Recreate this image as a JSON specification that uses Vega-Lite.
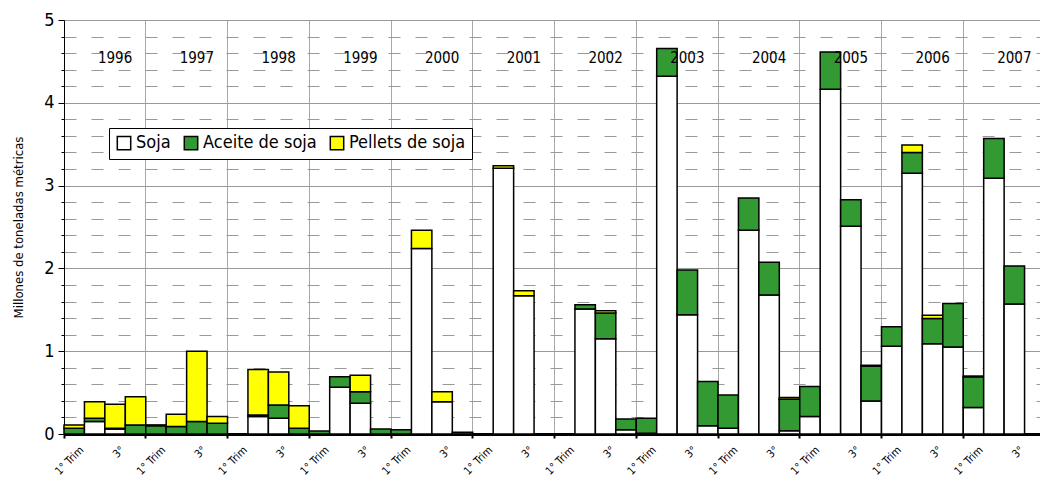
{
  "$schema": "https://vega.github.io/schema/vega-lite/v6.json",
  "width": 976,
  "height": 414,
  "autosize": {"type": "none"},
  "padding": {"left": 64, "top": 20, "right": 0, "bottom": 44},
  "background": "white",
  "config": {
    "font": "Liberation Sans Narrow, DejaVu Sans Condensed, sans-serif",
    "view": {"stroke": null},
    "axis": {"labelColor": "black", "titleColor": "black", "labelFont": "Liberation Sans Narrow, DejaVu Sans Condensed, sans-serif", "titleFont": "Liberation Sans Narrow, DejaVu Sans Condensed, sans-serif"},
    "legend": {"labelFont": "Liberation Sans Narrow, DejaVu Sans Condensed, sans-serif"}
  },
  "datasets": {
    "trade": [
      {"t": "1996-1", "p": "Aceite de soja", "v": 0.07}, {"t": "1996-1", "p": "Pellets de soja", "v": 0.04},
      {"t": "1996-2", "p": "Soja", "v": 0.15}, {"t": "1996-2", "p": "Aceite de soja", "v": 0.04}, {"t": "1996-2", "p": "Pellets de soja", "v": 0.20},
      {"t": "1996-3", "p": "Soja", "v": 0.06}, {"t": "1996-3", "p": "Aceite de soja", "v": 0.01}, {"t": "1996-3", "p": "Pellets de soja", "v": 0.29},
      {"t": "1996-4", "p": "Aceite de soja", "v": 0.11}, {"t": "1996-4", "p": "Pellets de soja", "v": 0.34},
      {"t": "1997-1", "p": "Aceite de soja", "v": 0.10}, {"t": "1997-1", "p": "Pellets de soja", "v": 0.01},
      {"t": "1997-2", "p": "Aceite de soja", "v": 0.09}, {"t": "1997-2", "p": "Pellets de soja", "v": 0.15},
      {"t": "1997-3", "p": "Aceite de soja", "v": 0.15}, {"t": "1997-3", "p": "Pellets de soja", "v": 0.85},
      {"t": "1997-4", "p": "Aceite de soja", "v": 0.13}, {"t": "1997-4", "p": "Pellets de soja", "v": 0.08},
      {"t": "1998-2", "p": "Soja", "v": 0.21}, {"t": "1998-2", "p": "Aceite de soja", "v": 0.02}, {"t": "1998-2", "p": "Pellets de soja", "v": 0.55},
      {"t": "1998-3", "p": "Soja", "v": 0.19}, {"t": "1998-3", "p": "Aceite de soja", "v": 0.16}, {"t": "1998-3", "p": "Pellets de soja", "v": 0.40},
      {"t": "1998-4", "p": "Aceite de soja", "v": 0.07}, {"t": "1998-4", "p": "Pellets de soja", "v": 0.27},
      {"t": "1999-1", "p": "Aceite de soja", "v": 0.035},
      {"t": "1999-2", "p": "Soja", "v": 0.565}, {"t": "1999-2", "p": "Aceite de soja", "v": 0.125},
      {"t": "1999-3", "p": "Soja", "v": 0.37}, {"t": "1999-3", "p": "Aceite de soja", "v": 0.14}, {"t": "1999-3", "p": "Pellets de soja", "v": 0.20},
      {"t": "1999-4", "p": "Aceite de soja", "v": 0.06},
      {"t": "2000-1", "p": "Aceite de soja", "v": 0.05},
      {"t": "2000-2", "p": "Soja", "v": 2.24}, {"t": "2000-2", "p": "Pellets de soja", "v": 0.22},
      {"t": "2000-3", "p": "Soja", "v": 0.39}, {"t": "2000-3", "p": "Pellets de soja", "v": 0.12},
      {"t": "2000-4", "p": "Aceite de soja", "v": 0.02},
      {"t": "2001-2", "p": "Soja", "v": 3.21}, {"t": "2001-2", "p": "Pellets de soja", "v": 0.03},
      {"t": "2001-3", "p": "Soja", "v": 1.67}, {"t": "2001-3", "p": "Pellets de soja", "v": 0.06},
      {"t": "2002-2", "p": "Soja", "v": 1.51}, {"t": "2002-2", "p": "Aceite de soja", "v": 0.05},
      {"t": "2002-3", "p": "Soja", "v": 1.15}, {"t": "2002-3", "p": "Aceite de soja", "v": 0.31}, {"t": "2002-3", "p": "Pellets de soja", "v": 0.03},
      {"t": "2002-4", "p": "Soja", "v": 0.05}, {"t": "2002-4", "p": "Aceite de soja", "v": 0.13},
      {"t": "2003-1", "p": "Soja", "v": 0.01}, {"t": "2003-1", "p": "Aceite de soja", "v": 0.18},
      {"t": "2003-2", "p": "Soja", "v": 4.32}, {"t": "2003-2", "p": "Aceite de soja", "v": 0.335},
      {"t": "2003-3", "p": "Soja", "v": 1.44}, {"t": "2003-3", "p": "Aceite de soja", "v": 0.54},
      {"t": "2003-4", "p": "Soja", "v": 0.10}, {"t": "2003-4", "p": "Aceite de soja", "v": 0.535},
      {"t": "2004-1", "p": "Soja", "v": 0.07}, {"t": "2004-1", "p": "Aceite de soja", "v": 0.40},
      {"t": "2004-2", "p": "Soja", "v": 2.46}, {"t": "2004-2", "p": "Aceite de soja", "v": 0.39},
      {"t": "2004-3", "p": "Soja", "v": 1.68}, {"t": "2004-3", "p": "Aceite de soja", "v": 0.395},
      {"t": "2004-4", "p": "Soja", "v": 0.04}, {"t": "2004-4", "p": "Aceite de soja", "v": 0.38}, {"t": "2004-4", "p": "Pellets de soja", "v": 0.02},
      {"t": "2005-1", "p": "Soja", "v": 0.21}, {"t": "2005-1", "p": "Aceite de soja", "v": 0.365},
      {"t": "2005-2", "p": "Soja", "v": 4.165}, {"t": "2005-2", "p": "Aceite de soja", "v": 0.45},
      {"t": "2005-3", "p": "Soja", "v": 2.51}, {"t": "2005-3", "p": "Aceite de soja", "v": 0.32},
      {"t": "2005-4", "p": "Soja", "v": 0.40}, {"t": "2005-4", "p": "Aceite de soja", "v": 0.42}, {"t": "2005-4", "p": "Pellets de soja", "v": 0.01},
      {"t": "2006-1", "p": "Soja", "v": 1.06}, {"t": "2006-1", "p": "Aceite de soja", "v": 0.235},
      {"t": "2006-2", "p": "Soja", "v": 3.15}, {"t": "2006-2", "p": "Aceite de soja", "v": 0.25}, {"t": "2006-2", "p": "Pellets de soja", "v": 0.09},
      {"t": "2006-3", "p": "Soja", "v": 1.09}, {"t": "2006-3", "p": "Aceite de soja", "v": 0.305}, {"t": "2006-3", "p": "Pellets de soja", "v": 0.04},
      {"t": "2006-4", "p": "Soja", "v": 1.05}, {"t": "2006-4", "p": "Aceite de soja", "v": 0.525},
      {"t": "2007-1", "p": "Soja", "v": 0.32}, {"t": "2007-1", "p": "Aceite de soja", "v": 0.37}, {"t": "2007-1", "p": "Pellets de soja", "v": 0.01},
      {"t": "2007-2", "p": "Soja", "v": 3.09}, {"t": "2007-2", "p": "Aceite de soja", "v": 0.48},
      {"t": "2007-3", "p": "Soja", "v": 1.57}, {"t": "2007-3", "p": "Aceite de soja", "v": 0.46}
    ],
    "years": [
      {"t": "1996-3", "year": "1996"}, {"t": "1997-3", "year": "1997"}, {"t": "1998-3", "year": "1998"},
      {"t": "1999-3", "year": "1999"}, {"t": "2000-3", "year": "2000"}, {"t": "2001-3", "year": "2001"},
      {"t": "2002-3", "year": "2002"}, {"t": "2003-3", "year": "2003"}, {"t": "2004-3", "year": "2004"},
      {"t": "2005-3", "year": "2005"}, {"t": "2006-3", "year": "2006"}, {"t": "2007-3", "year": "2007"}
    ]
  },
  "layer": [
    {
      "data": {"name": "trade"},
      "transform": [{"calculate": "indexof(['Soja','Aceite de soja','Pellets de soja'], datum.p)", "as": "ord"}],
      "mark": {"type": "bar", "stroke": "black", "strokeWidth": 1.5},
      "encoding": {
        "x": {
          "field": "t", "type": "ordinal",
          "scale": {
            "domain": ["1996-1","1996-2","1996-3","1996-4","1997-1","1997-2","1997-3","1997-4","1998-1","1998-2","1998-3","1998-4","1999-1","1999-2","1999-3","1999-4","2000-1","2000-2","2000-3","2000-4","2001-1","2001-2","2001-3","2001-4","2002-1","2002-2","2002-3","2002-4","2003-1","2003-2","2003-3","2003-4","2004-1","2004-2","2004-3","2004-4","2005-1","2005-2","2005-3","2005-4","2006-1","2006-2","2006-3","2006-4","2007-1","2007-2","2007-3","2007-4"],
            "range": [0, 981], "paddingInner": 0, "paddingOuter": 0
          },
          "axis": {
            "title": null,
            "values": ["1996-1","1996-3","1997-1","1997-3","1998-1","1998-3","1999-1","1999-3","2000-1","2000-3","2001-1","2001-3","2002-1","2002-3","2003-1","2003-3","2004-1","2004-3","2005-1","2005-3","2006-1","2006-3","2007-1","2007-3"],
            "bandPosition": 0,
            "labelExpr": "slice(datum.value, 5) === '1' ? '1° Trim' : '3°'",
            "labelOffset": 8,
            "labelAngle": -45,
            "labelAlign": "right",
            "labelBaseline": "middle",
            "labelPadding": 10,
            "labelFontSize": 11,
            "labelOverlap": false,
            "labelBound": false,
            "grid": true,
            "gridColor": "#a8a8a8",
            "gridWidth": 1,
            "gridOpacity": {"condition": {"test": "slice(datum.value, 5) === '1'", "value": 1}, "value": 0},
            "tickOpacity": {"condition": {"test": "slice(datum.value, 5) === '1'", "value": 1}, "value": 0},
            "ticks": true, "tickSize": 4, "tickWidth": 2, "tickColor": "black",
            "domain": true, "domainColor": "black", "domainWidth": 3
          }
        },
        "y": {
          "field": "v", "type": "quantitative", "stack": "zero",
          "scale": {"domain": [0, 5], "nice": false},
          "axis": {
            "title": "Millones de toneladas métricas",
            "titleFontSize": 13, "titleFontWeight": "normal", "titlePadding": 18,
            "values": [0,0.2,0.4,0.6,0.8,1,1.2,1.4,1.6,1.8,2,2.2,2.4,2.6,2.8,3,3.2,3.4,3.6,3.8,4,4.2,4.4,4.6,4.8,5],
            "tickCount": 100,
            "labelExpr": "datum.value % 1 === 0 ? format(datum.value, 'd') : ''",
            "labelFontSize": 18, "labelPadding": 4, "labelOverlap": false,
            "grid": true, "gridColor": "#999999", "gridWidth": 1,
            "gridDash": {"condition": {"test": "datum.value % 1 === 0", "value": []}, "value": [12, 15]},
            "tickSize": {"condition": {"test": "datum.value % 1 === 0", "value": 6}, "value": 3},
            "tickColor": "black", "tickWidth": 1,
            "domain": true, "domainColor": "black", "domainWidth": 1
          }
        },
        "color": {
          "field": "p", "type": "nominal",
          "scale": {"domain": ["Soja", "Aceite de soja", "Pellets de soja"], "range": ["#ffffff", "#339933", "#ffff00"]},
          "legend": {
            "title": null, "orient": "none", "legendX": 45, "legendY": 108, "direction": "horizontal",
            "strokeColor": "black", "fillColor": "white", "padding": 6,
            "labelFontSize": 18, "labelColor": "black", "labelOffset": 3,
            "symbolType": "square", "symbolSize": 180, "symbolStrokeColor": "black", "symbolStrokeWidth": 1.5,
            "columnPadding": 10
          }
        },
        "order": {"field": "ord", "type": "quantitative"}
      }
    },
    {
      "data": {"name": "years"},
      "mark": {"type": "text", "fontSize": 15, "color": "black", "align": "center", "baseline": "middle"},
      "encoding": {
        "x": {"field": "t", "type": "ordinal"},
        "y": {"datum": 4.54},
        "text": {"field": "year"}
      }
    }
  ]
}
